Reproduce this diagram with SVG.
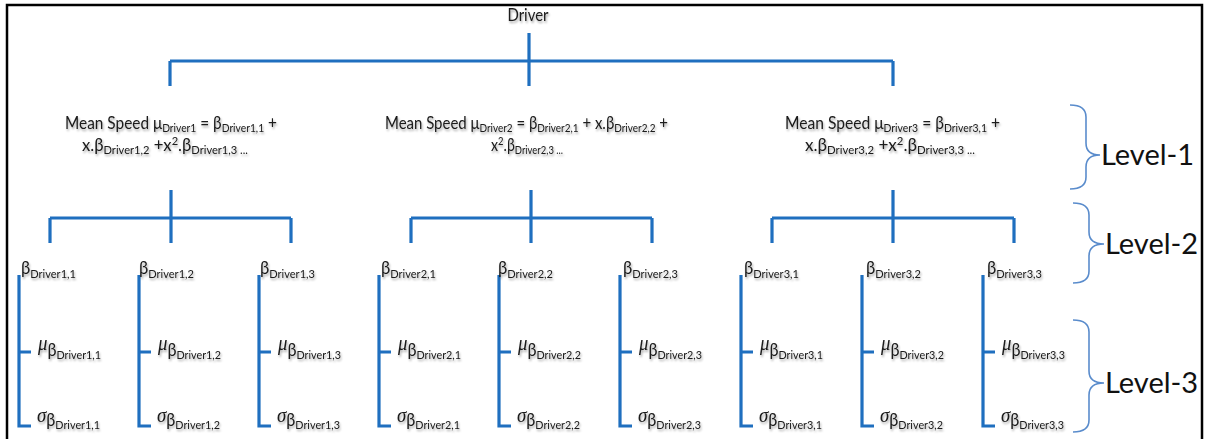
<svg xmlns="http://www.w3.org/2000/svg" width="1207" height="439" viewBox="0 0 1207 439">
<defs>
<style>
.t{font-family:Lato,"Noto Sans",sans-serif;fill:#1a1a1a}
.l1{font-size:18px}
.s{font-size:12px}
.b{font-size:18px}
.gk{font-family:"Liberation Serif","DejaVu Serif",serif;font-style:italic;font-size:21px}
.lv{font-family:Lato,"Noto Sans",sans-serif;font-size:29px;fill:#111}
.ln{stroke:#1f6fbf;stroke-width:3.2;fill:none}
.br{stroke:#5a8ccc;stroke-width:1.6;fill:none}
.sh{filter:url(#sh)}
</style>
<filter id="sh" x="-10%" y="-30%" width="120%" height="170%">
<feDropShadow dx="1" dy="2" stdDeviation="1.2" flood-color="#000" flood-opacity="0.35"/>
</filter>
</defs>
<rect x="0" y="0" width="1207" height="439" fill="#fff"/>
<rect x="7" y="5" width="1195" height="450" fill="none" stroke="#000" stroke-width="2.5"/>

<g id="connectors">
<path class="ln" d="M529,33 V86 M170,61 H893 M170,61 V86 M893,61 V86"/>
<path class="ln" d="M171,190 V243 M50,218 H291 M50,218 V243 M291,218 V243"/>
<path class="ln" d="M531,190 V243 M411,218 H652 M411,218 V243 M652,218 V243"/>
<path class="ln" d="M893,190 V243 M772,218 H1014 M772,218 V243 M1014,218 V243"/>
<path class="ln" d="M19,275 V426 H31 M19,352 H31"/>
<path class="ln" d="M139,275 V426 H151 M139,352 H151"/>
<path class="ln" d="M259,275 V426 H271 M259,352 H271"/>
<path class="ln" d="M379,275 V426 H391 M379,352 H391"/>
<path class="ln" d="M499,275 V426 H511 M499,352 H511"/>
<path class="ln" d="M620,275 V426 H632 M620,352 H632"/>
<path class="ln" d="M741,275 V426 H753 M741,352 H753"/>
<path class="ln" d="M862,275 V426 H874 M862,352 H874"/>
<path class="ln" d="M983,275 V426 H995 M983,352 H995"/>
</g>

<g id="driver" class="sh"><text class="t" style="font-size:18px" x="528" y="21" text-anchor="middle" textLength="41" lengthAdjust="spacingAndGlyphs">Driver</text></g>

<g id="mean1" class="sh">
<text class="t l1" x="65" y="129" textLength="212" lengthAdjust="spacingAndGlyphs">Mean Speed μ<tspan class="s" dy="3">Driver1</tspan><tspan dy="-3"> = β</tspan><tspan class="s" dy="3">Driver1,1</tspan><tspan dy="-3"> +</tspan></text>
<text class="t l1" x="82" y="151" textLength="166" lengthAdjust="spacingAndGlyphs">x.β<tspan class="s" dy="3">Driver1,2</tspan><tspan dy="-3"> +x</tspan><tspan class="s" dy="-6">2</tspan><tspan dy="6">.β</tspan><tspan class="s" dy="3">Driver1,3 ...</tspan></text>
</g>
<g id="mean2" class="sh">
<text class="t l1" x="385" y="129" textLength="283" lengthAdjust="spacingAndGlyphs">Mean Speed μ<tspan class="s" dy="3">Driver2</tspan><tspan dy="-3"> = β</tspan><tspan class="s" dy="3">Driver2,1</tspan><tspan dy="-3"> + x.β</tspan><tspan class="s" dy="3">Driver2,2</tspan><tspan dy="-3"> +</tspan></text>
<text class="t l1" x="491" y="151" textLength="72" lengthAdjust="spacingAndGlyphs">x<tspan class="s" dy="-6">2</tspan><tspan dy="6">.β</tspan><tspan class="s" dy="3">Driver2,3 ...</tspan></text>
</g>
<g id="mean3" class="sh">
<text class="t l1" x="785" y="129" textLength="215" lengthAdjust="spacingAndGlyphs">Mean Speed μ<tspan class="s" dy="3">Driver3</tspan><tspan dy="-3"> = β</tspan><tspan class="s" dy="3">Driver3,1</tspan><tspan dy="-3"> +</tspan></text>
<text class="t l1" x="805" y="151" textLength="170" lengthAdjust="spacingAndGlyphs">x.β<tspan class="s" dy="3">Driver3,2</tspan><tspan dy="-3"> +x</tspan><tspan class="s" dy="-6">2</tspan><tspan dy="6">.β</tspan><tspan class="s" dy="3">Driver3,3 ...</tspan></text>
</g>

<g id="beta11" class="sh"><text class="t b" x="21" y="274" textLength="55" lengthAdjust="spacingAndGlyphs">β<tspan class="s" dy="4">Driver1,1</tspan></text></g>
<g id="beta12" class="sh"><text class="t b" x="139" y="274" textLength="55" lengthAdjust="spacingAndGlyphs">β<tspan class="s" dy="4">Driver1,2</tspan></text></g>
<g id="beta13" class="sh"><text class="t b" x="260" y="274" textLength="55" lengthAdjust="spacingAndGlyphs">β<tspan class="s" dy="4">Driver1,3</tspan></text></g>
<g id="beta21" class="sh"><text class="t b" x="381" y="274" textLength="55" lengthAdjust="spacingAndGlyphs">β<tspan class="s" dy="4">Driver2,1</tspan></text></g>
<g id="beta22" class="sh"><text class="t b" x="498" y="274" textLength="55" lengthAdjust="spacingAndGlyphs">β<tspan class="s" dy="4">Driver2,2</tspan></text></g>
<g id="beta23" class="sh"><text class="t b" x="623" y="274" textLength="55" lengthAdjust="spacingAndGlyphs">β<tspan class="s" dy="4">Driver2,3</tspan></text></g>
<g id="beta31" class="sh"><text class="t b" x="744" y="274" textLength="55" lengthAdjust="spacingAndGlyphs">β<tspan class="s" dy="4">Driver3,1</tspan></text></g>
<g id="beta32" class="sh"><text class="t b" x="866" y="274" textLength="55" lengthAdjust="spacingAndGlyphs">β<tspan class="s" dy="4">Driver3,2</tspan></text></g>
<g id="beta33" class="sh"><text class="t b" x="987" y="274" textLength="55" lengthAdjust="spacingAndGlyphs">β<tspan class="s" dy="4">Driver3,3</tspan></text></g>

<g id="mu11" class="sh"><text class="t" x="38" y="350" textLength="63" lengthAdjust="spacingAndGlyphs"><tspan class="gk">μ</tspan><tspan class="b" dy="6">β</tspan><tspan class="s" dy="3">Driver1,1</tspan></text></g>
<g id="mu12" class="sh"><text class="t" x="158" y="350" textLength="63" lengthAdjust="spacingAndGlyphs"><tspan class="gk">μ</tspan><tspan class="b" dy="6">β</tspan><tspan class="s" dy="3">Driver1,2</tspan></text></g>
<g id="mu13" class="sh"><text class="t" x="278" y="350" textLength="63" lengthAdjust="spacingAndGlyphs"><tspan class="gk">μ</tspan><tspan class="b" dy="6">β</tspan><tspan class="s" dy="3">Driver1,3</tspan></text></g>
<g id="mu21" class="sh"><text class="t" x="398" y="350" textLength="63" lengthAdjust="spacingAndGlyphs"><tspan class="gk">μ</tspan><tspan class="b" dy="6">β</tspan><tspan class="s" dy="3">Driver2,1</tspan></text></g>
<g id="mu22" class="sh"><text class="t" x="518" y="350" textLength="63" lengthAdjust="spacingAndGlyphs"><tspan class="gk">μ</tspan><tspan class="b" dy="6">β</tspan><tspan class="s" dy="3">Driver2,2</tspan></text></g>
<g id="mu23" class="sh"><text class="t" x="639" y="350" textLength="63" lengthAdjust="spacingAndGlyphs"><tspan class="gk">μ</tspan><tspan class="b" dy="6">β</tspan><tspan class="s" dy="3">Driver2,3</tspan></text></g>
<g id="mu31" class="sh"><text class="t" x="760" y="350" textLength="63" lengthAdjust="spacingAndGlyphs"><tspan class="gk">μ</tspan><tspan class="b" dy="6">β</tspan><tspan class="s" dy="3">Driver3,1</tspan></text></g>
<g id="mu32" class="sh"><text class="t" x="881" y="350" textLength="63" lengthAdjust="spacingAndGlyphs"><tspan class="gk">μ</tspan><tspan class="b" dy="6">β</tspan><tspan class="s" dy="3">Driver3,2</tspan></text></g>
<g id="mu33" class="sh"><text class="t" x="1002" y="350" textLength="63" lengthAdjust="spacingAndGlyphs"><tspan class="gk">μ</tspan><tspan class="b" dy="6">β</tspan><tspan class="s" dy="3">Driver3,3</tspan></text></g>

<g id="sigma11" class="sh"><text class="t" x="37" y="422" textLength="63" lengthAdjust="spacingAndGlyphs"><tspan class="gk">σ</tspan><tspan class="b" dy="4">β</tspan><tspan class="s" dy="3">Driver1,1</tspan></text></g>
<g id="sigma12" class="sh"><text class="t" x="157" y="422" textLength="63" lengthAdjust="spacingAndGlyphs"><tspan class="gk">σ</tspan><tspan class="b" dy="4">β</tspan><tspan class="s" dy="3">Driver1,2</tspan></text></g>
<g id="sigma13" class="sh"><text class="t" x="277" y="422" textLength="63" lengthAdjust="spacingAndGlyphs"><tspan class="gk">σ</tspan><tspan class="b" dy="4">β</tspan><tspan class="s" dy="3">Driver1,3</tspan></text></g>
<g id="sigma21" class="sh"><text class="t" x="397" y="422" textLength="63" lengthAdjust="spacingAndGlyphs"><tspan class="gk">σ</tspan><tspan class="b" dy="4">β</tspan><tspan class="s" dy="3">Driver2,1</tspan></text></g>
<g id="sigma22" class="sh"><text class="t" x="517" y="422" textLength="63" lengthAdjust="spacingAndGlyphs"><tspan class="gk">σ</tspan><tspan class="b" dy="4">β</tspan><tspan class="s" dy="3">Driver2,2</tspan></text></g>
<g id="sigma23" class="sh"><text class="t" x="638" y="422" textLength="63" lengthAdjust="spacingAndGlyphs"><tspan class="gk">σ</tspan><tspan class="b" dy="4">β</tspan><tspan class="s" dy="3">Driver2,3</tspan></text></g>
<g id="sigma31" class="sh"><text class="t" x="759" y="422" textLength="63" lengthAdjust="spacingAndGlyphs"><tspan class="gk">σ</tspan><tspan class="b" dy="4">β</tspan><tspan class="s" dy="3">Driver3,1</tspan></text></g>
<g id="sigma32" class="sh"><text class="t" x="880" y="422" textLength="63" lengthAdjust="spacingAndGlyphs"><tspan class="gk">σ</tspan><tspan class="b" dy="4">β</tspan><tspan class="s" dy="3">Driver3,2</tspan></text></g>
<g id="sigma33" class="sh"><text class="t" x="1001" y="422" textLength="63" lengthAdjust="spacingAndGlyphs"><tspan class="gk">σ</tspan><tspan class="b" dy="4">β</tspan><tspan class="s" dy="3">Driver3,3</tspan></text></g>

<g id="level1">
<path class="br" d="M1070,105 Q1086,105 1086,117 V143 Q1086,155 1100,155 Q1086,155 1086,167 V177 Q1086,189 1070,189"/>
<text class="lv" x="1101" y="165">Level-1</text>
</g>
<g id="level2">
<path class="br" d="M1073,203 Q1089,203 1089,215 V232 Q1089,244 1104,244 Q1089,244 1089,256 V271 Q1089,283 1073,283"/>
<text class="lv" x="1105" y="254">Level-2</text>
</g>
<g id="level3">
<path class="br" d="M1073,320 Q1089,320 1089,332 V371 Q1089,383 1104,383 Q1089,383 1089,395 V420 Q1089,432 1073,432"/>
<text class="lv" x="1105" y="393">Level-3</text>
</g>
</svg>
